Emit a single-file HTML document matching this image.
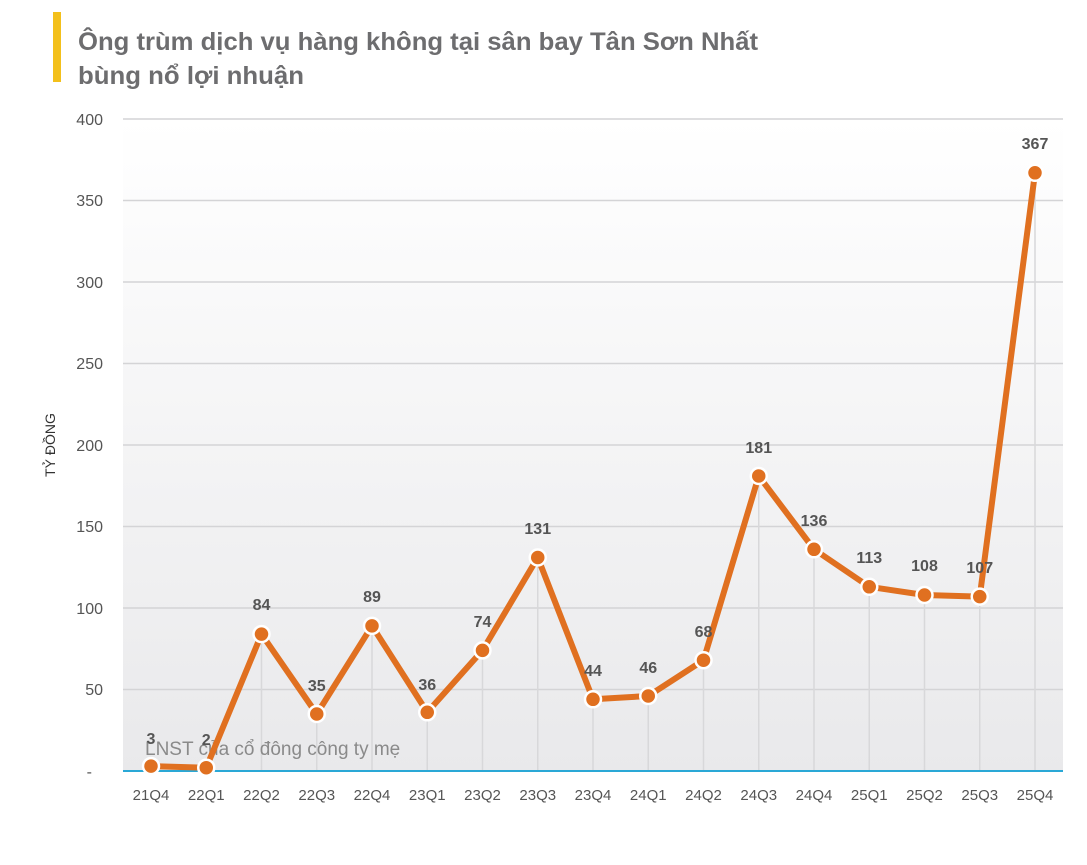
<!DOCTYPE html>
<html><head><meta charset="utf-8"><style>
body{margin:0;background:#fff;}
svg{display:block;font-family:"Liberation Sans",sans-serif;}
</style></head><body>
<svg width="1087" height="865" xmlns="http://www.w3.org/2000/svg">
<defs><linearGradient id="g" x1="0" y1="0" x2="0" y2="1">
<stop offset="0" stop-color="#ffffff"/><stop offset="1" stop-color="#e9e9eb"/></linearGradient></defs>
<rect x="53" y="12" width="8" height="70" fill="#f3c01b"/>
<text x="78" y="50" font-size="25" font-weight="bold" fill="#6d6d6f" textLength="680" lengthAdjust="spacingAndGlyphs">Ông trùm dịch vụ hàng không tại sân bay Tân Sơn Nhất</text>
<text x="78" y="84" font-size="25" font-weight="bold" fill="#6d6d6f" textLength="226" lengthAdjust="spacingAndGlyphs">bùng nổ lợi nhuận</text>
<rect x="123" y="119" width="940" height="652" fill="url(#g)"/>
<g stroke="#d4d4d6" stroke-width="1.5">
<line x1="123" x2="1063" y1="119" y2="119"/><line x1="123" x2="1063" y1="200.5" y2="200.5"/>
<line x1="123" x2="1063" y1="282" y2="282"/><line x1="123" x2="1063" y1="363.5" y2="363.5"/>
<line x1="123" x2="1063" y1="445" y2="445"/><line x1="123" x2="1063" y1="526.5" y2="526.5"/>
<line x1="123" x2="1063" y1="608" y2="608"/><line x1="123" x2="1063" y1="689.5" y2="689.5"/>
</g>
<g font-size="16" fill="#555" text-anchor="end">
<text x="103" y="125">400</text><text x="103" y="206">350</text><text x="103" y="288">300</text>
<text x="103" y="369">250</text><text x="103" y="451">200</text><text x="103" y="532">150</text>
<text x="103" y="614">100</text><text x="103" y="695">50</text><text x="92" y="777">-</text>
</g>
<text transform="translate(55,445) rotate(-90)" font-size="14" fill="#333" text-anchor="middle">TỶ ĐỒNG</text>
<g stroke="#d8d8da" stroke-width="1.5">
<line x1="151" x2="151" y1="766.1" y2="771"/>
<line x1="206.25" x2="206.25" y1="767.7" y2="771"/>
<line x1="261.5" x2="261.5" y1="634.1" y2="771"/>
<line x1="316.75" x2="316.75" y1="714" y2="771"/>
<line x1="372" x2="372" y1="625.9" y2="771"/>
<line x1="427.25" x2="427.25" y1="712.3" y2="771"/>
<line x1="482.5" x2="482.5" y1="650.4" y2="771"/>
<line x1="537.75" x2="537.75" y1="557.5" y2="771"/>
<line x1="593" x2="593" y1="699.3" y2="771"/>
<line x1="648.25" x2="648.25" y1="696" y2="771"/>
<line x1="703.5" x2="703.5" y1="660.2" y2="771"/>
<line x1="758.75" x2="758.75" y1="476" y2="771"/>
<line x1="814" x2="814" y1="549.3" y2="771"/>
<line x1="869.25" x2="869.25" y1="586.8" y2="771"/>
<line x1="924.5" x2="924.5" y1="595" y2="771"/>
<line x1="979.75" x2="979.75" y1="596.6" y2="771"/>
<line x1="1035" x2="1035" y1="172.8" y2="771"/>
</g>
<line x1="123" x2="1063" y1="771" y2="771" stroke="#2aa8d6" stroke-width="2"/>
<g font-size="15" fill="#555" text-anchor="middle">
<text x="151" y="800">21Q4</text><text x="206.25" y="800">22Q1</text><text x="261.5" y="800">22Q2</text>
<text x="316.75" y="800">22Q3</text><text x="372" y="800">22Q4</text><text x="427.25" y="800">23Q1</text>
<text x="482.5" y="800">23Q2</text><text x="537.75" y="800">23Q3</text><text x="593" y="800">23Q4</text>
<text x="648.25" y="800">24Q1</text><text x="703.5" y="800">24Q2</text><text x="758.75" y="800">24Q3</text>
<text x="814" y="800">24Q4</text><text x="869.25" y="800">25Q1</text><text x="924.5" y="800">25Q2</text>
<text x="979.75" y="800">25Q3</text><text x="1035" y="800">25Q4</text>
</g>
<text x="145" y="755" font-size="19" fill="#8a8a8a">LNST của cổ đông công ty mẹ</text>
<polyline points="151,766.1 206.25,767.7 261.5,634.1 316.75,714 372,625.9 427.25,712.3 482.5,650.4 537.75,557.5 593,699.3 648.25,696 703.5,660.2 758.75,476 814,549.3 869.25,586.8 924.5,595 979.75,596.6 1035,172.8" fill="none" stroke="#e07020" stroke-width="6" stroke-linejoin="round"/>
<g fill="#e07020" stroke="#fff" stroke-width="2.5">
<circle cx="151" cy="766.1" r="8"/><circle cx="206.25" cy="767.7" r="8"/><circle cx="261.5" cy="634.1" r="8"/>
<circle cx="316.75" cy="714" r="8"/><circle cx="372" cy="625.9" r="8"/><circle cx="427.25" cy="712.3" r="8"/>
<circle cx="482.5" cy="650.4" r="8"/><circle cx="537.75" cy="557.5" r="8"/><circle cx="593" cy="699.3" r="8"/>
<circle cx="648.25" cy="696" r="8"/><circle cx="703.5" cy="660.2" r="8"/><circle cx="758.75" cy="476" r="8"/>
<circle cx="814" cy="549.3" r="8"/><circle cx="869.25" cy="586.8" r="8"/><circle cx="924.5" cy="595" r="8"/>
<circle cx="979.75" cy="596.6" r="8"/><circle cx="1035" cy="172.8" r="8"/>
</g>
<g font-size="16" font-weight="bold" fill="#555" text-anchor="middle">
<text x="151" y="744">3</text><text x="206.25" y="745">2</text><text x="261.5" y="610">84</text>
<text x="316.75" y="691">35</text><text x="372" y="602">89</text><text x="427.25" y="690">36</text>
<text x="482.5" y="627">74</text><text x="537.75" y="534">131</text><text x="593" y="676">44</text>
<text x="648.25" y="673">46</text><text x="703.5" y="637">68</text><text x="758.75" y="453">181</text>
<text x="814" y="526">136</text><text x="869.25" y="563">113</text><text x="924.5" y="571">108</text>
<text x="979.75" y="573">107</text><text x="1035" y="149">367</text>
</g>
</svg>
</body></html>
